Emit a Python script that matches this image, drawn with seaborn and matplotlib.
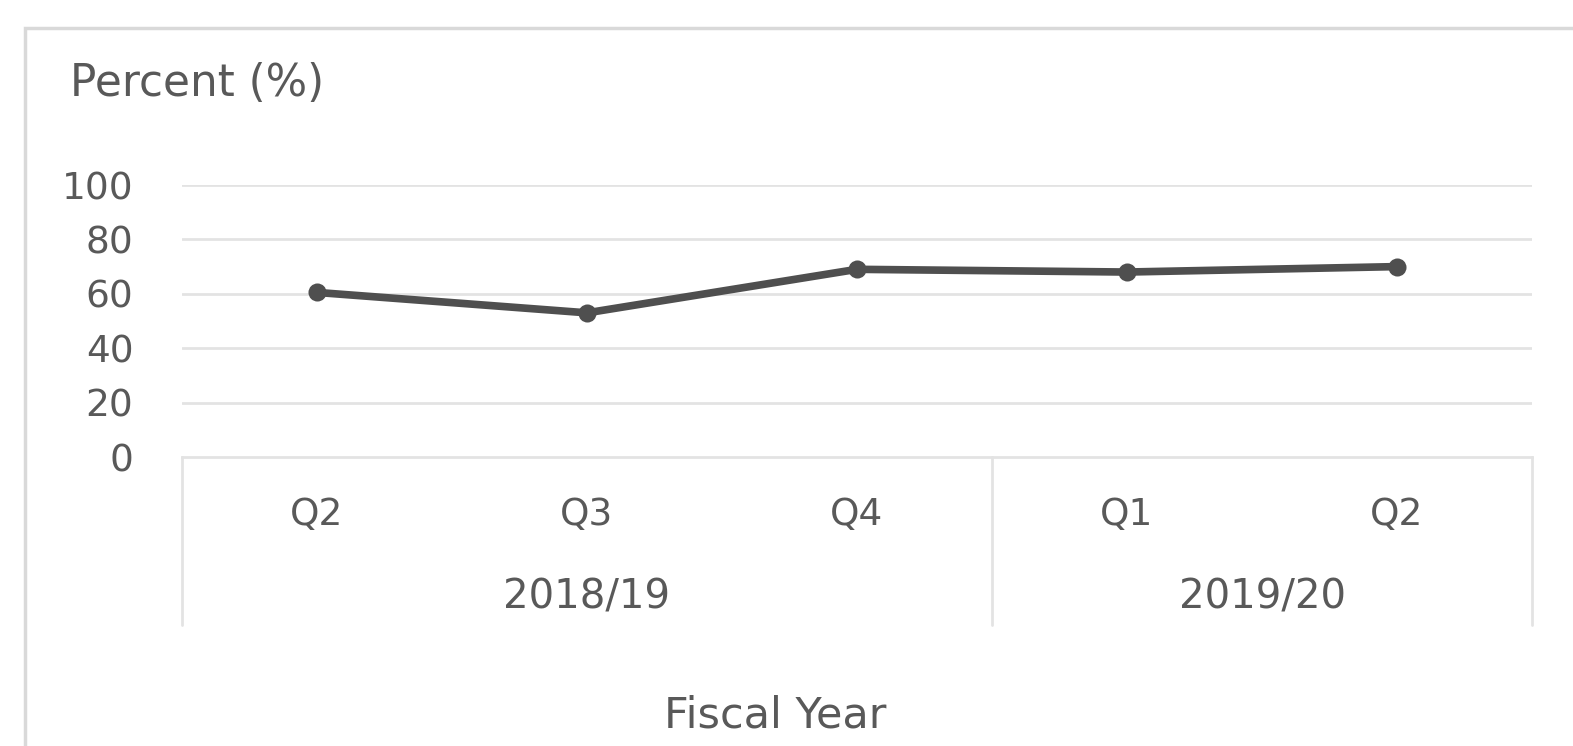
import matplotlib
matplotlib.use("Agg")
import matplotlib.pyplot as plt
import matplotlib.transforms as mtransforms
from matplotlib.patches import Rectangle
import seaborn as sns
import pandas as pd

# Data
quarters = ["Q2", "Q3", "Q4", "Q1", "Q2"]
fiscal_years = ["2018/19", "2018/19", "2018/19", "2019/20", "2019/20"]
percent = [60.5, 53, 69, 68, 70]
y_ticks = [0, 20, 40, 60, 80, 100]

sns.set_theme(style="white")
plt.rcParams['font.family'] = ['DejaVu Sans']

text_color = "#595959"
grid_color = "#e3e3e3"

fig = plt.figure(figsize=(15.73, 7.46), dpi=100)
ax = fig.add_axes([182/1573, 1-457/746, (1532-182)/1573, (457-185)/746])

df = pd.DataFrame({"pos": list(range(len(percent))), "percent": percent})
sns.lineplot(data=df, x="pos", y="percent", ax=ax, color="#4f4f4f", linewidth=5.5,
             marker="o", markersize=13, markeredgewidth=0, zorder=5)

ax.set_xlim(-0.5, len(percent) - 0.5)
ax.set_ylim(0, 100)
ax.set_yticks(y_ticks)
ax.set_yticklabels([str(t) for t in y_ticks], fontsize=27, color=text_color)
ax.tick_params(axis="y", length=0, pad=35)
ax.set_xticks([])
ax.set_xlabel("")
ax.set_ylabel("")
for s in ["top", "right", "left"]:
    ax.spines[s].set_visible(False)
ax.spines["bottom"].set_color(grid_color)
ax.spines["bottom"].set_linewidth(2)
for t in y_ticks[1:]:
    ax.axhline(t, color=grid_color, linewidth=2, zorder=1)

trans = mtransforms.blended_transform_factory(ax.transData, ax.transAxes)
for i, q in enumerate(quarters):
    ax.text(i, -0.213, q, transform=trans, ha="center", va="center",
            fontsize=27, color=text_color)

# group labels and separators
groups = []
for i, fy in enumerate(fiscal_years):
    if not groups or groups[-1][0] != fy:
        groups.append([fy, i, i])
    else:
        groups[-1][2] = i
bounds = [-0.5] + [g[2] + 0.5 for g in groups]
for b in bounds:
    ax.plot([b, b], [0, -0.618], transform=trans, color=grid_color, linewidth=2,
            clip_on=False)
for fy, a, b in groups:
    ax.text((a + b) / 2, -0.515, fy, transform=trans, ha="center", va="center",
            fontsize=29, color=text_color)

fig.text(775/1573, 1-716/746, "Fiscal Year", ha="center", va="center",
         fontsize=31, color=text_color)
fig.text(70/1573, 1-84/746, "Percent (%)", ha="left", va="center",
         fontsize=31.5, color=text_color)

# outer chart border
fig.patches.append(Rectangle((25/1573, -0.05), 1.2, 1-28/746+0.05,
                             transform=fig.transFigure, fill=False,
                             edgecolor="#d9d9d9", linewidth=2.5))

fig.savefig("out.png", dpi=100)
